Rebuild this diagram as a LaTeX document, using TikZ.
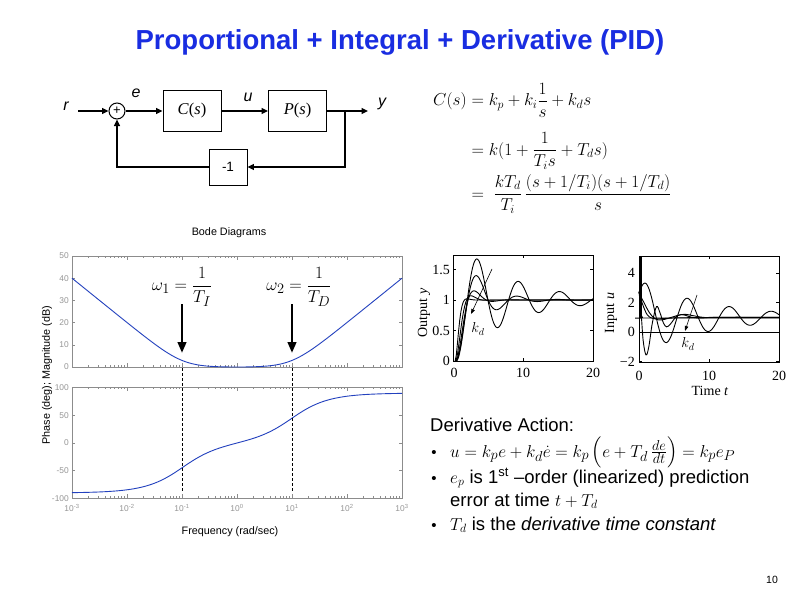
\documentclass[tikz,border=0pt]{standalone}
\usepackage{amsmath}
\usepackage[no-math]{fontspec}
\newfontfamily\arial{Liberation Sans}
\newfontfamily\tnr{Liberation Serif}
\usetikzlibrary{arrows.meta}
\definecolor{titleblue}{RGB}{25,45,225}
\definecolor{bodeblue}{RGB}{35,65,190}
\definecolor{axgray}{RGB}{140,140,140}
\definecolor{labgray}{RGB}{150,150,150}
\newcommand{\fsz}[1]{\fontsize{#1}{#1}\selectfont}
\begin{document}
\begin{tikzpicture}[x=1pt,y=-1pt,
  sig/.style={line width=1.3pt,-{Triangle[length=6.5pt,width=6pt]}},
  blk/.style={draw,line width=0.9pt,minimum width=58pt,minimum height=41pt,inner sep=0pt,font=\tnr\fsz{16.5}},
  sigl/.style={font=\arial\itshape\fsz{16},inner sep=0pt},
  bodetick/.style={font=\arial\fsz{8.4},text=labgray,inner sep=1pt},
  bodelab/.style={font=\arial\fsz{10.8},inner sep=0pt},
  bodeax/.style={draw=axgray,line width=0.6pt},
  stepcurve/.style={line width=0.9pt,black},
  steplab/.style={font=\tnr\fsz{14},inner sep=1pt},
  kdarrow/.style={line width=0.6pt,-{Triangle[length=5pt,width=3.5pt]}},
  txt/.style={font=\arial\fsz{18.5},inner sep=0pt,anchor=base west},
  bul/.style={font=\arial\fsz{15},inner sep=0pt,anchor=base},
]
\useasboundingbox (0,0) rectangle (799,599);
\fill[white] (0,0) rectangle (799,599);

% Title
\node[font=\arial\bfseries\fsz{27.5},text=titleblue] (title) at (400,42) {Proportional + Integral + Derivative (PID)};

% Block diagram
\node[circle,draw,line width=1pt,minimum size=16pt,inner sep=0pt,font=\arial\fsz{13}] (sum) at (117,111) {+};
\node[blk] (C) at (192,111) {\textit{C}(\textit{s})};
\node[blk] (P) at (297.5,111) {\textit{P}(\textit{s})};
\node[blk,minimum width=38pt,minimum height=36pt,font=\arial\fsz{13.5}] (M) at (228,167) {-1};
\coordinate (rin) at (78,111);
\coordinate (yout) at (368,111);
\coordinate (br) at (345,111);
\draw[sig] (rin) -- (sum);
\draw[sig] (sum) -- (C);
\draw[sig] (C) -- (P);
\draw[sig] (P) -- (yout);
\draw[sig] (br) |- (M);
\draw[sig] (M) -| (sum);
\node[sigl] (lr) at (66,106) {r};
\node[sigl] (le) at (136,93) {e};
\node[sigl] (lu) at (248,97) {u};
\node[sigl] (ly) at (382,104) {y};

% Equations
\node[anchor=base west,inner sep=0pt,font=\fsz{18}] (eq1) at (433,106) {$C(s) = k_p + k_i\dfrac{1}{s} + k_d s$};
\node[anchor=base west,inner sep=0pt,font=\fsz{18}] (eq2) at (433,155) {$\phantom{C(s)}{} = k(1 + \dfrac{1}{T_i s} + T_d s)$};
\node[anchor=base west,inner sep=0pt,font=\fsz{18}] (eq3) at (433,199) {$\phantom{C(s)}{} = \;\dfrac{kT_d}{T_i}\,\dfrac{(s+1/T_i)(s+1/T_d)}{s}$};

% Bode diagrams
\node[bodelab] (bt) at (229,233) {Bode Diagrams};
\node[bodelab] (bf) at (230,532) {Frequency (rad/sec)};
\node[bodelab,rotate=90] (by) at (47,375) {Phase (deg); Magnitude (dB)};
\draw[bodeax] (72,256) rectangle (402,367);
\draw[bodeax] (72,387) rectangle (402,498);
\foreach \v in {0,10,20,30,40,50} {
  \draw[bodeax] (72,{367-2.22*\v}) -- ++(3,0);
  \draw[bodeax] (402,{367-2.22*\v}) -- ++(-3,0);
  \node[bodetick,anchor=east] (mt\v) at (70,{367-2.22*\v}) {\v};
}
\foreach \v in {-100,-50,0,50,100} {
  \draw[bodeax] (72,{443-0.555*\v}) -- ++(3,0);
  \draw[bodeax] (402,{443-0.555*\v}) -- ++(-3,0);
  \node[bodetick,anchor=east] (pt\v) at (70,{443-0.555*\v}) {\v};
}
\foreach \d in {-3,...,3} {
  \draw[bodeax] ({237+55*\d},256) -- ++(0,4);
  \draw[bodeax] ({237+55*\d},367) -- ++(0,-4);
  \draw[bodeax] ({237+55*\d},387) -- ++(0,4);
  \draw[bodeax] ({237+55*\d},498) -- ++(0,-4);
  \node[bodetick] (xt\d) at ({237+55*\d},508) {10\textsuperscript{\d}};
}
\foreach \d in {-3,...,2} {
  \foreach \k in {2,...,9} {
    \draw[bodeax] ({237+55*(\d+log10(\k))},256) -- ++(0,2);
    \draw[bodeax] ({237+55*(\d+log10(\k))},367) -- ++(0,-2);
    \draw[bodeax] ({237+55*(\d+log10(\k))},387) -- ++(0,2);
    \draw[bodeax] ({237+55*(\d+log10(\k))},498) -- ++(0,-2);
  }
}
\begin{scope}[shift={(237,367)},x=55pt,y=2.22pt]
  \draw[bodeblue,line width=0.9pt] plot[domain=-3:3,samples=150,smooth] (\x,{4.3429*ln(1+(0.2*sinh(2.302585*\x))^2)});
\end{scope}
\begin{scope}[shift={(237,443)},x=55pt,y=0.555pt]
  \draw[bodeblue,line width=0.9pt] plot[domain=-3:3,samples=150,smooth] (\x,{atan(0.2*sinh(2.302585*\x))});
\end{scope}
\coordinate (d1a) at (182,368); \coordinate (d1b) at (182,491);
\coordinate (d2a) at (292,368); \coordinate (d2b) at (292,491);
\draw[line width=0.9pt,dash pattern=on 3pt off 2pt] (d1a) -- (d1b);
\draw[line width=0.9pt,dash pattern=on 3pt off 2pt] (d2a) -- (d2b);
\coordinate (a1s) at (182,304); \coordinate (a1e) at (182,353);
\coordinate (a2s) at (292,304); \coordinate (a2e) at (292,353);
\draw[line width=2.6pt,-{Triangle[length=11pt,width=8.5pt]}] (a1s) -- (a1e);
\draw[line width=2.6pt,-{Triangle[length=11pt,width=8.5pt]}] (a2s) -- (a2e);
\node[font=\fsz{19},inner sep=0pt] (w1) at (182,287) {$\omega_1 = \dfrac{1}{T_I}$};
\node[font=\fsz{19},inner sep=0pt] (w2) at (299,287) {$\omega_2 = \dfrac{1}{T_D}$};

% Step response: output
\draw[line width=0.6pt] (453,255) rectangle (593,361);
\foreach \v/\l in {0/0,0.5/0.5,1/1,1.5/1.5} {
  \draw[line width=0.5pt] (453,{361-61*\v}) -- ++(3,0);
  \draw[line width=0.5pt] (593,{361-61*\v}) -- ++(-3,0);
  \node[steplab,anchor=east] (oy\l) at (451,{361-61*\v}) {\l};
}
\foreach \t in {0,10,20} {
  \draw[line width=0.5pt] ({453+7*\t},361) -- ++(0,-3);
  \draw[line width=0.5pt] ({453+7*\t},255) -- ++(0,3);
}
\node[steplab] (ox0) at (454,373) {0};
\node[steplab] (ox10) at (523,373) {10};
\node[steplab] (ox20) at (593,373) {20};
\node[steplab,rotate=90] (oyl) at (424,313) {Output \textit{y}};
\begin{scope}[shift={(453,361)},x=7pt,y=61pt]
  \draw[stepcurve] plot[domain=0.45:20,samples=160] (\x,{1-exp(-0.134*(\x-0.45))*(cos(deg(1.065*(\x-0.45)))+0.126*sin(deg(1.065*(\x-0.45))))});
  \draw[stepcurve] plot[domain=0.4:20,samples=140] (\x,{1-exp(-0.316*(\x-0.4))*(cos(deg(1.083*(\x-0.4)))+0.292*sin(deg(1.083*(\x-0.4))))});
  \draw[stepcurve] plot[domain=0.4:20,samples=120] (\x,{1-exp(-0.73*(\x-0.4))*(cos(deg(1.21*(\x-0.4)))+0.603*sin(deg(1.21*(\x-0.4))))});
  \draw[stepcurve] plot[domain=0.35:20,samples=120] (\x,{1-exp(-1.21*(\x-0.35))*(cos(deg(1.43*(\x-0.35)))+0.846*sin(deg(1.43*(\x-0.35))))});
  \draw[stepcurve] plot[domain=0.3:20,samples=120] (\x,{1-exp(-2.3*(\x-0.3))*(cos(deg(1.85*(\x-0.3)))+1.243*sin(deg(1.85*(\x-0.3))))});
\end{scope}
\coordinate (k1s) at (492,269); \coordinate (k1e) at (471,314);
\draw[kdarrow] (k1s) -- (k1e);
\node[font=\fsz{14},inner sep=0pt] (k1l) at (478,329) {$k_d$};

% Step response: input
\draw[line width=0.6pt] (639,256) rectangle (779,362);
\coordinate (z0a) at (639,332); \coordinate (z0b) at (779,332);
\draw[line width=0.5pt] (z0a) -- (z0b);
\foreach \v/\l in {4/4,2/2,0/0,-2/{\textminus2}} {
  \draw[line width=0.5pt] (639,{332-14.75*\v}) -- ++(3,0);
  \draw[line width=0.5pt] (779,{332-14.75*\v}) -- ++(-3,0);
  \node[steplab,anchor=east] (iy\v) at (636,{332-14.75*\v}) {\l};
}
\foreach \t in {0,10,20} {
  \draw[line width=0.5pt] ({639+7*\t},362) -- ++(0,-3);
  \draw[line width=0.5pt] ({639+7*\t},256) -- ++(0,3);
  \node[steplab] (ix\t) at ({639+7*\t},376) {\t};
}
\node[steplab,rotate=90] (iyl) at (611,313) {Input \textit{u}};
\node[steplab] (ixl) at (710,391) {Time \textit{t}};
\begin{scope}[shift={(639,332)},x=7pt,y=14.75pt]
  \draw[stepcurve] plot[domain=0:20,samples=180] (\x,{1+2.5*exp(-0.096*\x)*cos(deg(1.047*(\x-0.95)))+0.3*exp(-3*\x)});
  \draw[stepcurve] plot[smooth,tension=0.6] coordinates {(0,2.75) (0.3,1.3) (0.6,-0.6) (1.0,-1.55) (1.4,-1.0) (1.9,0.6) (2.5,1.72) (3.0,1.3) (3.5,0.6) (3.95,0.35) (4.5,0.55) (5.5,1.12) (6.5,1.15) (7.5,1.0) (9,0.95) (11,1.0) (20,1.0)};
  \draw[stepcurve] plot[smooth,tension=0.6] coordinates {(0,2.65) (0.7,2.0) (1.5,1.3) (2.3,0.9) (3.2,0.82) (4.2,0.93) (5.5,1.12) (6.6,1.2) (7.8,1.1) (9.5,0.98) (12,1.0) (20,1.0)};
  \draw[stepcurve] plot[smooth,tension=0.6] coordinates {(0,2.7) (0.5,1.9) (1.2,1.15) (2,0.92) (3,0.9) (4.5,0.94) (7,0.97) (20,0.97)};
  \draw[stepcurve] plot[smooth,tension=0.6] coordinates {(0.2,1.3) (0.5,0.97) (1,0.95) (20,0.96)};
  \draw[line width=2.5pt] (0.22,5.12) -- (0.22,0.97);
\end{scope}
\coordinate (k2s) at (697,295); \coordinate (k2e) at (685,331);
\draw[kdarrow] (k2s) -- (k2e);
\node[font=\fsz{14},inner sep=0pt] (k2l) at (688,344) {$k_d$};

% Derivative action text
\node[txt] (da) at (430,431.5) {Derivative Action:};
\node[bul] (b1) at (434,457) {•};
\node[txt,font=\fsz{19}] (l1) at (450,457) {$u = k_p e + k_d\dot e = k_p\left(e + T_d\,\tfrac{de}{dt}\right) = k_p e_P$};
\node[bul] (b2) at (434,483) {•};
\node[txt] (l2) at (450,483) {$e_p$ is 1\textsuperscript{st} –order (linearized) prediction};
\node[txt] (l3) at (450,506) {error at time $t + T_d$};
\node[bul] (b4) at (434,530) {•};
\node[txt] (l4) at (450,530) {$T_d$ is the \textit{derivative time constant}};

% Page number
\node[font=\arial\fsz{10.5}] (pg) at (772,580) {10};
\end{tikzpicture}
\end{document}
